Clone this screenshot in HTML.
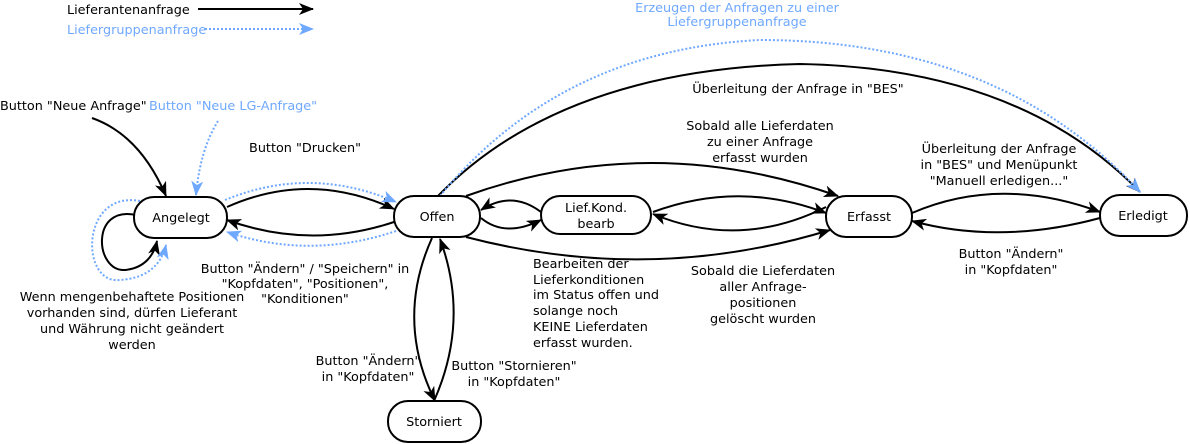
<!DOCTYPE html>
<html><head><meta charset="utf-8"><style>
html,body{margin:0;padding:0;background:#fff;}
svg{display:block;}
text{font-family:"DejaVu Sans","Liberation Sans",sans-serif;font-size:12.8px;fill:#000;}
.b{fill:#6fa8ff;}
</style></head><body>
<svg width="1190" height="444" viewBox="0 0 1190 444">
<defs>
<marker id="a" markerWidth="15" markerHeight="12" refX="14" refY="6" orient="auto" markerUnits="userSpaceOnUse">
<path d="M0,0 L15,6 L0,12 L4,6 z" fill="#000"/></marker>
<marker id="c" markerWidth="15" markerHeight="12" refX="14" refY="6" orient="auto" markerUnits="userSpaceOnUse">
<path d="M0,0 L15,6 L0,12 L4,6 z" fill="#6fa8ff"/></marker>
</defs>
<g fill="none" stroke="#000" stroke-width="2">
<line x1="198" y1="9" x2="313" y2="9" marker-end="url(#a)"/>
<path d="M92,118 Q140,135 166,196" marker-end="url(#a)"/>
<path d="M136,215 C90,205 95,272 125,270 C145,268 154,255 157,241" marker-end="url(#a)"/>
<path d="M227,207 Q310,170 394,209" marker-end="url(#a)"/>
<path d="M394,222 Q310,250 227,220" marker-end="url(#a)"/>
<path d="M541,212 Q512,190 481,210" marker-end="url(#a)"/>
<path d="M481,218 Q505,238 541,220" marker-end="url(#a)"/>
<path d="M466,196 Q650,130 838,196" marker-end="url(#a)"/>
<path d="M466,237 Q650,285 830,230" marker-end="url(#a)"/>
<path d="M653,212 Q740,180 826,213" marker-end="url(#a)"/>
<path d="M826,207 Q740,250 653,214" marker-end="url(#a)"/>
<path d="M912,213 Q1000,175 1100,212" marker-end="url(#a)"/>
<path d="M1100,218 Q1000,245 912,221" marker-end="url(#a)"/>
<path d="M438,196 Q560,70 800,64 Q1020,68 1140,192" marker-end="url(#a)"/>
<path d="M432,238 Q395,320 435,401" marker-end="url(#a)"/>
<path d="M434,401 Q470,320 440,239" marker-end="url(#a)"/>
</g>
<g fill="none" stroke="#6fa8ff" stroke-width="2" stroke-dasharray="2,2">
<line x1="205" y1="29" x2="313" y2="29" marker-end="url(#c)"/>
<path d="M218,121 Q200,150 196,195" marker-end="url(#c)"/>
<path d="M140,201 C80,190 80,285 120,280 C150,278 162,262 166,245" marker-end="url(#c)"/>
<path d="M225,200 Q310,165 396,202" marker-end="url(#c)"/>
<path d="M396,231 Q310,260 227,232" marker-end="url(#c)"/>
<path d="M440,196 Q560,50 760,40 Q1000,40 1140,192" marker-end="url(#c)"/>
</g>
<g fill="#fff" stroke="#000" stroke-width="2">
<rect x="134" y="197" width="93" height="41" rx="20"/>
<rect x="394" y="196" width="86" height="41" rx="20"/>
<rect x="541" y="196" width="110" height="38" rx="19"/>
<rect x="826" y="196" width="86" height="41" rx="20"/>
<rect x="1100" y="195" width="87" height="41" rx="20"/>
<rect x="388" y="401" width="93" height="41" rx="20"/>
</g>
<g text-anchor="middle">
<text x="181" y="222">Angelegt</text>
<text x="437" y="221">Offen</text>
<text x="596" y="212">Lief.Kond.</text>
<text x="596" y="228">bearb</text>
<text x="869" y="221">Erfasst</text>
<text x="1143" y="220">Erledigt</text>
<text x="434" y="426">Storniert</text>
<text x="737" y="12" class="b">Erzeugen der Anfragen zu einer</text>
<text x="737" y="26" class="b">Liefergruppenanfrage</text>
<text x="798" y="93">Überleitung der Anfrage in "BES"</text>
<text x="760" y="130">Sobald alle Lieferdaten</text>
<text x="760" y="146">zu einer Anfrage</text>
<text x="760" y="162">erfasst wurden</text>
<text x="999" y="153">Überleitung der Anfrage</text>
<text x="999" y="169">in "BES" und Menüpunkt</text>
<text x="999" y="185">"Manuell erledigen..."</text>
<text x="1011" y="258">Button "Ändern"</text>
<text x="1011" y="274">in "Kopfdaten"</text>
<text x="763" y="275">Sobald die Lieferdaten</text>
<text x="763" y="291">aller Anfrage-</text>
<text x="763" y="307">positionen</text>
<text x="763" y="323">gelöscht wurden</text>
<text x="305" y="152">Button "Drucken"</text>
<text x="305" y="273">Button "Ändern" / "Speichern" in</text>
<text x="305" y="288">"Kopfdaten", "Positionen",</text>
<text x="305" y="303">"Konditionen"</text>
<text x="132" y="301">Wenn mengenbehaftete Positionen</text>
<text x="132" y="317">vorhanden sind, dürfen Lieferant</text>
<text x="132" y="333">und Währung nicht geändert</text>
<text x="132" y="349">werden</text>
<text x="368" y="365">Button "Ändern"</text>
<text x="368" y="381">in "Kopfdaten"</text>
<text x="514" y="370">Button "Stornieren"</text>
<text x="514" y="386">in "Kopfdaten"</text>
</g>
<text x="67" y="14">Lieferantenanfrage</text>
<text x="67" y="34" class="b">Liefergruppenanfrage</text>
<text x="0" y="110">Button "Neue Anfrage"</text>
<text x="149" y="110" class="b">Button "Neue LG-Anfrage"</text>
<text x="533" y="268">Bearbeiten der</text>
<text x="533" y="284">Lieferkonditionen</text>
<text x="533" y="299">im Status offen und</text>
<text x="533" y="315">solange noch</text>
<text x="533" y="331">KEINE Lieferdaten</text>
<text x="533" y="347">erfasst wurden.</text>
</svg>
</body></html>
